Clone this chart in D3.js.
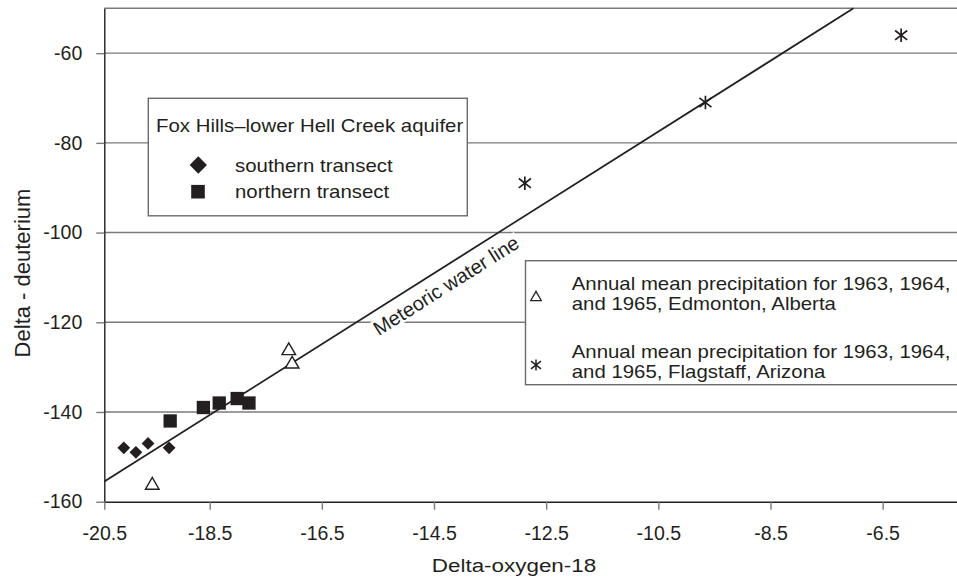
<!DOCTYPE html>
<html>
<head>
<meta charset="utf-8">
<script src="https://cdn.jsdelivr.net/npm/d3@7"></script>
<style>
  html, body { margin: 0; padding: 0; background: #fff; }
  svg { display: block; font-family: "Liberation Sans", Arial, Helvetica, sans-serif; }
</style>
</head>
<body>
<svg id="chart" width="957" height="579"></svg>
<script>
// Axis ticks
const xTicks = [-20.5, -18.5, -16.5, -14.5, -12.5, -10.5, -8.5, -6.5];
const yTicks = [-160, -140, -120, -100, -80, -60];

// Fox Hills–lower Hell Creek aquifer samples [delta-18O, delta-D]
const southernTransect = [[-20.13, -148], [-19.90, -149], [-19.67, -147], [-19.27, -148]];
const northernTransect = [[-19.25, -142], [-18.62, -139], [-18.33, -138], [-18.01, -137], [-17.80, -138]];

// Annual mean precipitation, 1963–1965
const edmonton = [[-17.09, -126], [-17.03, -129], [-19.59, -156]];
const flagstaff = [[-12.88, -89], [-9.66, -71], [-6.17, -56]];

// Meteoric water line end points
const meteoricLine = [[-20.5, -155.5], [-7.02, -50]];

const W = 957, H = 579;
const ink = "#231f20";
const gridColor = "#7a7a7a";

const svg = d3.select("#chart");

const x = d3.scaleLinear().domain([-20.5, -18.5, -4.5]).range([104.3, 209.7, 994.8]);
const y = d3.scaleLinear().domain([-160, -50]).range([501.7, 8.3]);

const plotLeft = x(-20.5), plotBottom = y(-160), plotTop = y(-50);

// text that is widened horizontally, anchored at (tx, ty)
function wideText(parent, tx, ty, str, size, sx, anchor) {
  return parent.append("text")
    .attr("transform", `translate(${tx},${ty}) scale(${sx},1)`)
    .attr("text-anchor", anchor || "start")
    .attr("font-size", size).attr("fill", ink)
    .text(str);
}

// horizontal gridlines
svg.append("g")
  .selectAll("line")
  .data(yTicks.filter(d => d !== -160))
  .join("line")
  .attr("x1", plotLeft).attr("x2", W + 40)
  .attr("y1", d => y(d)).attr("y2", d => y(d))
  .attr("stroke", gridColor).attr("stroke-width", 1.4);

// top border of plot area
svg.append("line")
  .attr("x1", plotLeft).attr("x2", W + 40)
  .attr("y1", plotTop).attr("y2", plotTop)
  .attr("stroke", gridColor).attr("stroke-width", 1.4);

// y axis
const yAxis = svg.append("g")
  .attr("transform", `translate(${plotLeft},0)`)
  .call(d3.axisLeft(y).tickValues(yTicks).tickSize(8).tickSizeOuter(0).tickPadding(14).tickFormat(d => String(d)));
yAxis.attr("font-family", null).attr("font-size", null);
yAxis.select(".domain").attr("stroke", ink).attr("stroke-width", 1.4);
yAxis.selectAll(".tick line").attr("stroke", gridColor).attr("stroke-width", 1.4);
yAxis.selectAll(".tick text").attr("fill", ink).attr("font-size", 19.5);

// x axis
const xAxis = svg.append("g")
  .attr("transform", `translate(0,${plotBottom})`)
  .call(d3.axisBottom(x).tickValues(xTicks).tickSize(8).tickSizeOuter(0).tickPadding(16).tickFormat(d => d.toFixed(1)));
xAxis.attr("font-family", null).attr("font-size", null);
xAxis.select(".domain").attr("stroke", ink).attr("stroke-width", 1.4);
xAxis.selectAll(".tick line").attr("stroke", gridColor).attr("stroke-width", 1.4);
xAxis.selectAll(".tick text").attr("fill", ink).attr("font-size", 19.5);

// axis titles
wideText(svg, 514, 571.5, "Delta-oxygen-18", 19, 1.18, "middle");
svg.append("text")
  .attr("transform", "translate(30,273) rotate(-90)")
  .attr("text-anchor", "middle").attr("font-size", 22).attr("fill", ink)
  .text("Delta - deuterium");

// meteoric water line with its label set just below it
const lineGen = d3.line().x(d => x(d[0])).y(d => y(d[1]));
const p0 = meteoricLine[0], p1 = meteoricLine[1];
const angle = Math.atan2(y(p1[1]) - y(p0[1]), x(p1[0]) - x(p0[0])) * 180 / Math.PI;

const labelG = svg.append("g").attr("transform", `translate(446,285.5) rotate(${angle})`);
const labelBg = labelG.append("rect").attr("fill", "#fff");
const labelText = labelG.append("text")
  .attr("text-anchor", "middle").attr("dy", "0.35em")
  .attr("font-size", 20).attr("fill", ink)
  .text("Meteoric water line");
const bb = labelText.node().getBBox();
labelBg.attr("x", bb.x - 2).attr("y", bb.y + 2).attr("width", bb.width + 4).attr("height", bb.height - 4);

svg.append("path")
  .datum(meteoricLine)
  .attr("d", lineGen)
  .attr("fill", "none").attr("stroke", ink).attr("stroke-width", 1.8);

// marker shapes
const starSymbol = {
  draw(ctx, size) {
    const r = Math.sqrt(size) / 2;
    ctx.moveTo(0, -r); ctx.lineTo(0, r);
    ctx.moveTo(-r * 0.9, -r * 0.7); ctx.lineTo(r * 0.9, r * 0.7);
    ctx.moveTo(-r * 0.9, r * 0.7); ctx.lineTo(r * 0.9, -r * 0.7);
  }
};

function drawMarkers(data, kind, size) {
  const g = svg.append("g");
  const sel = g.selectAll("path").data(data).join("path");
  if (kind === "diamond") {
    sel.attr("d", d3.symbol(d3.symbolSquare, size)())
      .attr("transform", d => `translate(${x(d[0])},${y(d[1])}) rotate(45)`)
      .attr("fill", ink);
  } else if (kind === "square") {
    sel.attr("d", d3.symbol(d3.symbolSquare, size)())
      .attr("transform", d => `translate(${x(d[0])},${y(d[1])})`)
      .attr("fill", ink);
  } else if (kind === "triangle") {
    sel.attr("d", d3.symbol(d3.symbolTriangle, size)())
      .attr("transform", d => `translate(${x(d[0])},${y(d[1]) + 1.5})`)
      .attr("fill", "#fff").attr("stroke", ink).attr("stroke-width", 1.4);
  } else {
    sel.attr("d", d3.symbol(starSymbol, size)())
      .attr("transform", d => `translate(${x(d[0])},${y(d[1])})`)
      .attr("fill", "none").attr("stroke", ink).attr("stroke-width", 1.7);
  }
}

drawMarkers(southernTransect, "diamond", 82);
drawMarkers(northernTransect, "square", 177);
drawMarkers(edmonton, "triangle", 80);
drawMarkers(flagstaff, "star", 180);

// legend: aquifer samples
const lg1 = svg.append("g");
lg1.append("rect")
  .attr("x", 148.3).attr("y", 98.3).attr("width", 319).attr("height", 117.5)
  .attr("fill", "#fff").attr("stroke", "#6a6a6a").attr("stroke-width", 1.4);
wideText(lg1, 156, 131.7, "Fox Hills\u2013lower Hell Creek aquifer", 17.5, 1.166);
lg1.append("path").attr("d", d3.symbol(d3.symbolSquare, 150)())
  .attr("transform", "translate(198.3,165) rotate(45)").attr("fill", ink);
wideText(lg1, 235, 171.5, "southern transect", 17.5, 1.166);
lg1.append("path").attr("d", d3.symbol(d3.symbolSquare, 185)())
  .attr("transform", "translate(198,191.7)").attr("fill", ink);
wideText(lg1, 235, 198, "northern transect", 17.5, 1.166);

// legend: precipitation stations
const lg2 = svg.append("g");
lg2.append("rect")
  .attr("x", 525.5).attr("y", 260.7).attr("width", 460).attr("height", 124)
  .attr("fill", "#fff").attr("stroke", "#6a6a6a").attr("stroke-width", 1.4);
lg2.append("path").attr("d", d3.symbol(d3.symbolTriangle, 48)())
  .attr("transform", "translate(536,297.5)")
  .attr("fill", "#fff").attr("stroke", ink).attr("stroke-width", 1.3);
wideText(lg2, 571.7, 290, "Annual mean precipitation for 1963, 1964,", 17.5, 1.166);
wideText(lg2, 571.7, 309.5, "and 1965, Edmonton, Alberta", 17.5, 1.166);
lg2.append("path").attr("d", d3.symbol(starSymbol, 120)())
  .attr("transform", "translate(536,365)")
  .attr("fill", "none").attr("stroke", ink).attr("stroke-width", 1.5);
wideText(lg2, 571.7, 358.3, "Annual mean precipitation for 1963, 1964,", 17.5, 1.166);
wideText(lg2, 571.7, 378, "and 1965, Flagstaff, Arizona", 17.5, 1.166);
</script>
</body>
</html>
